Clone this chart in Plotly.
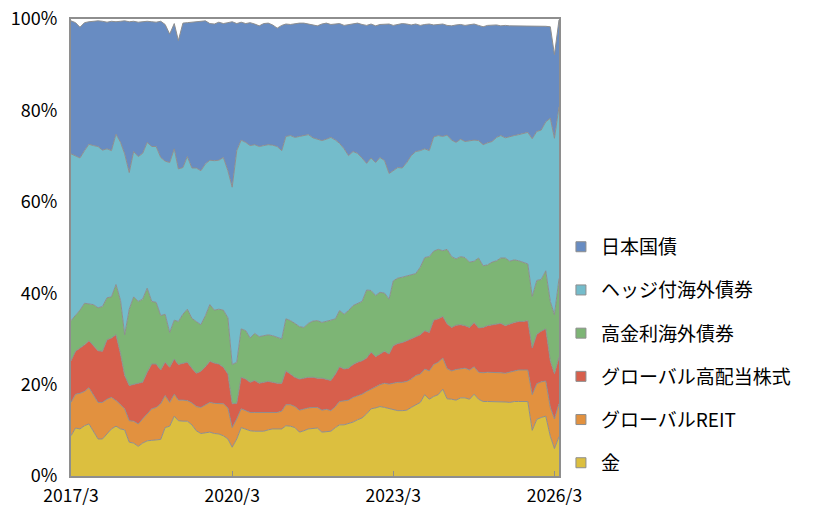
import pandas as pd
import plotly.graph_objects as go

months = pd.date_range("2017-03-01", periods=110, freq="MS")
tick_dates = ["2017-03-01", "2020-03-01", "2023-03-01", "2026-03-01"]
tick_labels = ["2017/3", "2020/3", "2023/3", "2026/3"]
y_ticks = [0, 20, 40, 60, 80, 100]
y_tick_labels = ["0%", "20%", "40%", "60%", "80%", "100%"]

gold = [8.8, 10.5, 10.3, 11.0, 11.4, 9.8, 8.1, 8.1, 9.2, 10.3,
        10.9, 10.3, 10.1, 7.4, 7.2, 6.5, 7.2, 7.7, 7.8, 7.9,
        8.0, 10.6, 10.9, 13.1, 12.1, 12.0, 12.0, 11.2, 9.9, 9.3,
        9.5, 9.6, 9.3, 9.2, 8.8, 8.1, 6.3, 8.1, 10.6, 10.3,
        9.9, 9.8, 9.8, 9.8, 10.1, 10.3, 10.3, 10.3, 11.0, 10.9,
        10.6, 9.6, 9.9, 10.3, 10.4, 10.5, 9.6, 9.7, 9.8, 10.6,
        11.2, 11.2, 11.5, 11.8, 12.3, 12.7, 13.6, 14.7, 14.9, 15.2,
        15.0, 14.8, 14.5, 14.3, 14.3, 14.4, 15.0, 15.6, 16.1, 17.8,
        16.8, 17.4, 17.8, 19.0, 16.9, 16.8, 16.6, 17.1, 17.1, 16.8,
        17.9, 16.8, 16.3, 16.3, 16.3, 16.3, 16.3, 16.2, 16.1, 16.3,
        16.3, 16.3, 16.3, 10.0, 12.4, 12.8, 13.1, 8.7, 6.0, 8.6]

reit = [7.3, 7.4, 7.8, 7.5, 7.9, 7.8, 8.0, 8.0, 7.6, 6.9,
        5.6, 5.3, 4.6, 4.7, 4.8, 4.9, 5.3, 6.0, 6.9, 7.1,
        7.8, 7.0, 5.2, 4.8, 4.5, 4.6, 4.5, 4.8, 5.3, 5.7,
        6.1, 6.5, 6.6, 6.7, 7.0, 6.8, 4.3, 4.4, 4.1, 4.0,
        4.0, 4.1, 4.1, 4.1, 3.8, 3.6, 3.6, 3.9, 4.6, 4.7,
        4.6, 4.8, 4.8, 4.6, 4.6, 4.5, 4.8, 4.9, 4.5, 4.6,
        5.1, 5.2, 5.1, 5.4, 5.3, 5.2, 4.9, 4.3, 4.6, 4.8,
        5.3, 5.3, 5.8, 6.2, 6.2, 6.3, 6.2, 6.4, 6.2, 5.6,
        6.2, 7.0, 7.1, 6.8, 6.6, 6.2, 6.7, 6.4, 6.5, 6.4,
        6.0, 5.9, 6.3, 6.4, 6.4, 6.4, 6.3, 6.3, 6.6, 6.7,
        6.9, 6.9, 6.9, 7.8, 7.8, 7.8, 7.7, 6.3, 6.5, 7.2]

equity = [9.1, 9.4, 9.9, 10.2, 10.3, 10.9, 11.3, 11.2, 13.0, 13.0,
          14.4, 11.1, 7.3, 7.7, 8.1, 8.9, 8.0, 9.0, 9.8, 9.5,
          7.4, 7.3, 7.7, 7.7, 7.8, 8.1, 8.4, 7.6, 7.3, 7.9,
          8.3, 9.0, 8.8, 8.6, 8.0, 7.4, 5.2, 3.4, 6.9, 6.9,
          6.6, 7.0, 6.4, 6.6, 6.8, 6.6, 6.4, 6.1, 7.4, 6.7,
          6.4, 6.8, 6.7, 6.7, 6.6, 6.4, 7.0, 6.6, 6.6, 7.1,
          7.6, 7.0, 7.0, 7.2, 7.3, 7.3, 7.3, 8.1, 6.6, 6.7,
          7.0, 6.6, 8.2, 8.5, 8.7, 8.9, 8.8, 8.5, 8.6, 8.4,
          8.4, 9.7, 9.5, 9.1, 9.8, 9.5, 9.7, 9.6, 9.3, 9.3,
          9.7, 9.7, 9.9, 10.2, 10.4, 10.6, 10.8, 10.4, 10.6, 10.6,
          10.6, 10.6, 10.8, 10.2, 10.8, 11.1, 11.4, 10.2, 9.9, 10.2]

high_yield = [8.8, 7.8, 8.3, 9.1, 8.1, 9.0, 9.4, 9.8, 9.2, 9.0,
              11.0, 11.7, 8.9, 16.7, 19.1, 17.9, 18.2, 18.4, 13.7, 13.5,
              11.9, 10.5, 7.6, 8.5, 9.4, 10.7, 11.6, 10.9, 11.3, 10.2,
              11.2, 12.4, 11.6, 12.0, 12.5, 12.3, 8.6, 9.0, 10.6, 10.6,
              9.7, 10.3, 10.2, 10.2, 10.2, 10.2, 10.0, 9.7, 11.4, 11.7,
              11.8, 11.5, 11.1, 11.8, 12.3, 12.6, 12.2, 12.6, 13.2, 12.1,
              12.3, 12.0, 12.6, 12.9, 12.9, 13.0, 14.9, 13.5, 13.4, 13.5,
              12.7, 12.0, 14.2, 14.3, 14.3, 14.2, 14.1, 13.8, 14.8, 16.0,
              16.6, 15.1, 15.2, 14.4, 16.3, 15.5, 14.5, 14.9, 14.9, 14.3,
              13.4, 15.3, 13.5, 13.3, 13.7, 13.8, 14.3, 14.8, 13.7, 13.7,
              13.3, 13.0, 12.4, 11.3, 11.8, 11.3, 12.7, 13.0, 12.9, 17.2]

hedged = [36.5, 35.0, 33.3, 33.4, 34.9, 34.8, 35.3, 34.2, 32.6, 32.0,
          32.9, 34.6, 39.6, 29.9, 31.8, 31.7, 31.9, 31.9, 33.9, 34.1,
          34.6, 33.5, 37.2, 37.5, 33.4, 32.1, 33.4, 32.9, 33.6, 33.7,
          33.2, 31.6, 32.7, 32.6, 33.4, 32.2, 38.8, 46.3, 41.3, 41.2,
          42.1, 41.3, 41.6, 41.6, 41.6, 41.7, 41.8, 41.2, 39.9, 40.5,
          40.7, 41.6, 42.0, 41.3, 40.1, 39.7, 39.8, 39.9, 40.0, 39.1,
          36.6, 36.2, 33.9, 33.7, 32.8, 31.4, 27.7, 29.0, 29.1, 29.5,
          29.0, 27.5, 24.1, 24.2, 23.9, 24.8, 26.0, 26.7, 25.5, 23.8,
          23.2, 25.0, 24.9, 25.0, 25.0, 25.5, 25.5, 25.7, 25.4, 26.6,
          26.5, 25.7, 26.5, 26.7, 26.4, 27.0, 26.8, 26.3, 27.3, 27.2,
          27.6, 28.2, 28.8, 34.5, 32.6, 32.7, 32.6, 40.1, 38.6, 37.6]

jgb = [29.1, 29.1, 28.6, 28.0, 26.8, 27.2, 27.5, 28.2, 27.7, 28.3,
       24.6, 26.5, 29.1, 33.0, 28.5, 29.4, 28.8, 26.5, 27.3, 27.2,
       29.8, 29.9, 28.1, 27.4, 28.1, 31.6, 29.3, 31.9, 32.1, 32.8,
       31.3, 29.9, 29.9, 30.2, 29.3, 32.4, 36.2, 27.8, 25.8, 26.0,
       26.9, 26.4, 26.4, 26.7, 26.6, 26.3, 25.9, 27.4, 24.6, 24.3,
       24.9, 24.8, 24.6, 24.2, 24.8, 24.8, 25.5, 25.4, 24.7, 25.4,
       26.2, 27.0, 28.7, 28.0, 28.5, 29.2, 30.2, 29.3, 29.9, 29.1,
       29.9, 32.7, 31.8, 31.3, 31.6, 30.3, 28.6, 27.9, 27.4, 27.2,
       27.7, 24.5, 24.3, 24.6, 24.0, 25.0, 25.7, 25.1, 25.4, 25.4,
       25.4, 25.2, 25.8, 25.7, 25.5, 24.6, 24.0, 24.6, 24.2, 24.0,
       23.8, 23.5, 23.3, 24.7, 23.0, 22.7, 20.9, 20.0, 18.3, 19.0]

names = ["金", "グローバルREIT", "グローバル高配当株式", "高金利海外債券", "ヘッジ付海外債券", "日本国債"]
series = [gold, reit, equity, high_yield, hedged, jgb]
colors = ["#dcbf3f", "#e2913f", "#d75f4c", "#7db575", "#74bccb", "#688cc2"]

FONT = "Noto Sans CJK JP"
GREY = "#8e8e8e"

fig = go.Figure()
for name, vals, col in zip(names, series, colors):
    fig.add_trace(go.Scatter(
        x=months, y=vals, name=name, mode="lines", stackgroup="one",
        line=dict(color=GREY, width=1), fillcolor=col, showlegend=False,
    ))

# legend entries (square markers), top to bottom
for i, (name, col) in enumerate(reversed(list(zip(names, colors)))):
    fig.add_trace(go.Scatter(
        x=[None], y=[None], mode="markers", name=name, legendgroup=f"g{i}",
        marker=dict(symbol="square", size=10, color=col, line=dict(color=GREY, width=1)),
    ))

# the page body adds an 8px offset, so the figure is sized to fit the window
fig.update_layout(
    width=814, height=501,
    margin=dict(l=63, r=263, t=11, b=33, autoexpand=False),
    paper_bgcolor="white", plot_bgcolor="white",
    font=dict(family=FONT, size=18, color="black"),
    showlegend=True,
    legend=dict(
        x=1.004, xanchor="left", y=0.265, yanchor="middle",
        traceorder="grouped", tracegroupgap=15.5,
        font=dict(family=FONT, size=19, color="black"),
        bgcolor="rgba(0,0,0,0)",
    ),
    xaxis=dict(
        range=[months[0], months[-1]],
        tickmode="array", tickvals=tick_dates, ticktext=tick_labels,
        ticks="inside", ticklen=5, tickcolor=GREY, tickwidth=1,
        showgrid=False, zeroline=False, automargin=False,
        showline=True, linecolor=GREY, linewidth=2, mirror=True,
        tickfont=dict(family=FONT, size=17.5),
        ticklabelstandoff=3, ticklabeloverflow="allow",
    ),
    yaxis=dict(
        range=[0, 100], tickmode="array", tickvals=y_ticks, ticktext=y_tick_labels,
        ticks="", showgrid=False, zeroline=False, automargin=False,
        showline=True, linecolor=GREY, linewidth=2, mirror=True,
        tickfont=dict(family=FONT, size=18),
        ticklabelstandoff=8, ticklabeloverflow="allow",
    ),
)

fig.write_html("out.html")
